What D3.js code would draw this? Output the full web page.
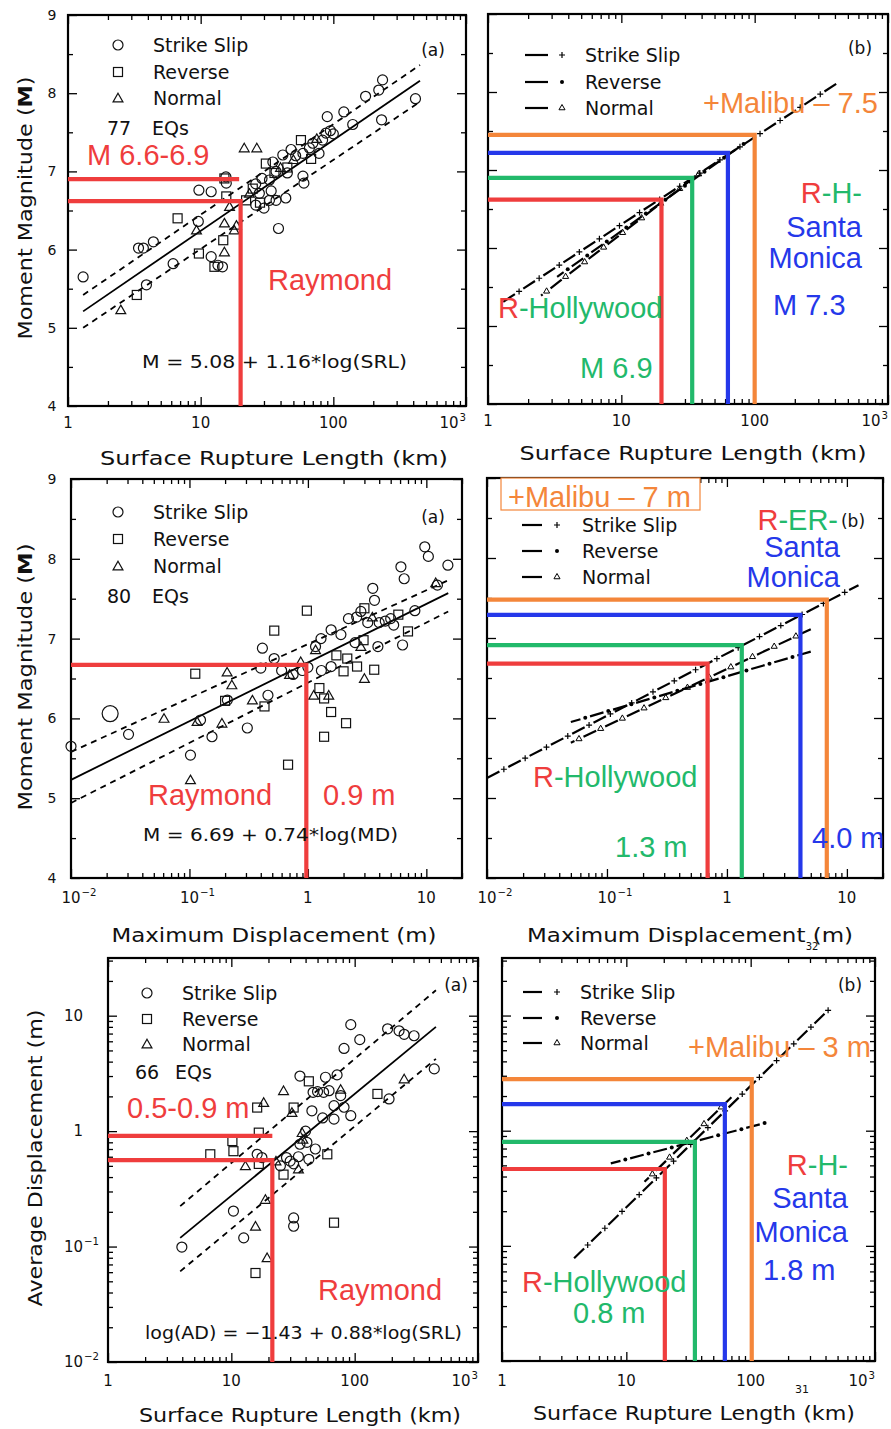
<!DOCTYPE html>
<html>
<head>
<meta charset="utf-8">
<script src="https://cdn.jsdelivr.net/npm/d3@7"></script>
<style>
  body { margin: 0; background: #fff; }
  text { font-family: "DejaVu Sans", sans-serif; fill: #111; }
  text.ann { font-family: "Liberation Sans", Arial, sans-serif; }
</style>
</head>
<body>
<script>
var RED = "#ef3d3d", GREEN = "#22b96b", BLUE = "#2538ea", ORANGE = "#f4863a";

// ---- panel (a) top: surface rupture length (km) vs moment magnitude ----
var srlM_strike = [[1.3,5.65],[3.9,5.55],[3.4,6.02],[3.7,6.02],[4.4,6.1],[6.2,5.82],[9.7,6.76],[12,6.74],[9.6,6.36],[12,5.91],
  [14.6,5.78],[13.5,5.8],[15.5,6.93],[15.6,6.85],[38.6,6.27],[43.8,6.66],[37,6.63],[33,6.63],[59,6.94],[60,6.85],
  [90,7.7],[120,7.76],[175,7.96],[220,8.04],[235,8.17],[416,7.93],[231,7.66],[48,7.28],[59,7.23],[70,7.36],
  [83,7.4],[88,7.49],[78,7.23],[35,7.12],[41.6,7.21],[37,7.0],[33,6.89],[29,6.91],[27.7,6.72],[26,6.57],
  [30,6.53],[100,7.48],[140,7.6],[66,7.3],[52,7.2],[95,7.52],[26,6.84],[45,6.98],[34,6.75]];
var srlM_reverse = [[3.3,5.42],[6.7,6.4],[9.7,5.95],[12.7,5.78],[14.8,6.12],[15.1,6.91],[15.6,6.68],[22,6.63],[24.7,6.78],
  [31,7.1],[57,7.4],[36,6.98],[68,7.16],[45,7.05],[28,6.6]];
var srlM_normal = [[2.5,5.23],[21.3,7.3],[26.5,7.3],[15.1,6.34],[18.6,6.31],[15.1,5.97],[17.9,6.25],[23.3,6.72],[16.5,6.55],
  [40,7.05],[50,7.15],[9.3,6.25],[75,7.42]];
var srlM_fit = [[1.3,5.21],[450,8.16]];
var srlM_upper = [[1.3,5.42],[450,8.36]];
var srlM_lower = [[1.3,5.0],[450,7.89]];
var raymondSrl = 20, raymondM = 6.62, raymondMHigh = 6.9, raymondSrlHigh = 19.5;

// ---- panel (b) top: regressions by slip type, faults ----
var srlM_lineSS = [[1.3,5.31],[430,8.13]];
var srlM_lineRev = [[3.3,5.63],[85,7.35]];
var srlM_lineNor = [[2.5,5.39],[41,6.99]];
var faultColors = [RED, GREEN, BLUE, ORANGE];
var faultSrl_M = [20, 34, 63, 100];
var faultM = [6.62, 6.9, 7.22, 7.45];

// ---- panel (a) middle: maximum displacement (m) vs magnitude ----
var mdM_strike = [[0.01,5.65],[0.0306,5.8],[0.102,5.54],[0.124,5.98],[0.155,5.77],[0.308,5.88],[0.413,6.88],[0.519,6.75],
  [0.40,6.63],[0.46,6.29],[0.209,6.23],[1.29,7.0],[1.57,7.11],[1.16,6.9],[1.57,6.65],[3.53,7.63],[3.65,7.48],[3.9,6.9],
  [6.1,7.9],[6.5,7.75],[9.7,8.15],[10.4,8.03],[15.2,7.92],[6.3,6.92],[12.4,7.67],[2.58,7.27],[2.8,7.34],[5.3,7.17],
  [1.9,7.05],[0.75,6.55],[1.3,6.6],[4.5,7.22],[3.2,7.2],[2.2,7.25],[4.0,7.2],[0.6,6.6],[1.0,6.64],[2.5,6.95],[8,7.35],
  [5,7.25],[0.9,6.6]];
var mdM_strikeBig = [[0.0214,6.06]];
var mdM_reverse = [[0.112,6.56],[0.52,7.1],[0.98,7.35],[0.43,6.15],[0.68,5.42],[1.25,6.38],[1.37,6.25],[1.57,6.08],[1.37,5.77],
  [2.1,5.94],[2.0,6.59],[2.6,6.65],[3.63,6.61],[2.95,6.98],[2.15,6.75],[3.0,7.38],[7.0,7.09],[1.74,6.79],[0.2,6.22],[5.8,7.3]];
var mdM_normal = [[0.102,5.23],[0.061,6.0],[0.208,6.58],[0.228,6.42],[0.188,5.94],[0.34,6.23],[0.116,5.96],[1.12,6.29],
  [1.5,6.29],[3.0,6.5],[2.8,6.9],[0.87,6.71],[1.16,6.86],[3.5,7.27],[0.7,6.55],[12,7.7]];
var mdM_fit = [[0.01,5.23],[15.3,7.57]];
var mdM_upper = [[0.01,5.58],[15.3,7.73]];
var mdM_lower = [[0.01,4.94],[15.3,7.34]];
var raymondMD = 0.97, raymondMD_M = 6.67;

// ---- panel (b) middle ----
var mdM_lineSS = [[0.01,5.25],[12.5,7.66]];
var mdM_lineRev = [[0.05,5.95],[5,6.83]];
var mdM_lineNor = [[0.05,5.69],[5,7.11]];
var faultMD = [0.69, 1.33, 4.1, 6.8];
var faultMD_M = [6.68, 6.91, 7.29, 7.48];

// ---- panel (a) bottom: surface rupture length (km) vs average displacement (m) ----
var srlAD_strike = [[3.97,0.099],[12.6,0.119],[10.4,0.203],[32,0.177],[32,0.15],[93,8.36],[110,6.2],[82,5.2],[185,7.7],
  [229,7.4],[252,6.9],[303,6.7],[442,3.46],[190,1.9],[36,3.0],[58,2.93],[72,3.07],[46,2.17],[56,2.17],[62,2.24],[77,2.03],
  [82,1.61],[93,1.36],[68,1.27],[68,1.66],[36,0.77],[41,0.8],[48,0.7],[28,0.59],[32,0.52],[42.5,0.57],[16.2,0.63],
  [17.7,0.59],[50,2.2],[40,1.0],[25,0.5],[45,1.5],[55,1.3],[35,0.6],[30,0.55]];
var srlAD_reverse = [[15.7,0.059],[68,0.161],[6.75,0.63],[10.4,0.67],[10.2,0.82],[16.7,0.97],[16.2,1.6],[32,1.6],[60,0.63],
  [26.5,0.42],[42.5,2.7],[153,2.1],[16.7,0.52]];
var srlAD_normal = [[19.5,0.08],[15.7,0.15],[18.9,0.256],[18.3,1.77],[26.5,2.24],[31,1.45],[35,0.47],[13,0.5],[37.5,0.97],
  [252,2.83],[77,2.3],[38,0.85],[23,0.55]];
var srlAD_fit = [[3.85,0.119],[456,8.0]];
var srlAD_upper = [[3.85,0.224],[456,16.6]];
var srlAD_lower = [[3.85,0.061],[456,4.23]];
var raymondSrlAD = 21.5, raymondAD = 0.56, raymondADHigh = 0.91;

// ---- panel (b) bottom ----
var srlAD_lineSS = [[3.8,0.078],[430,11.4]];
var srlAD_lineRev = [[7.5,0.52],[140,1.19]];
var srlAD_lineNor = [[14,0.36],[70,1.95]];
var faultSrl_AD = [20.4, 35.6, 62, 102];
var faultAD = [0.465, 0.8, 1.7, 2.8];

// tick labels
var srlTicks = [1, 10, 100, 1000], srlTickText = ["1", "10", "100", "10^3"];
var mdTicks = [0.01, 0.1, 1, 10], mdTickText = ["10^\u22122", "10^\u22121", "1", "10"];
var adTicks = [0.01, 0.1, 1, 10], adTickText = ["10^\u22122", "10^\u22121", "1", "10"];
var magTicks = [4, 5, 6, 7, 8, 9];
var legendNames = ["Strike Slip", "Reverse", "Normal"];

var svg = d3.select("body").append("svg").attr("width", 891).attr("height", 1429);

// scales for the six panels
var p1 = { x: d3.scaleLog().domain([1, 1000]).range([68, 466]), y: d3.scaleLinear().domain([4, 9]).range([406, 15]) };
var p2 = { x: d3.scaleLog().domain([1, 1000]).range([488, 888]), y: d3.scaleLinear().domain([4, 9]).range([404, 14]) };
var p3 = { x: d3.scaleLog().domain([0.01, 20]).range([71, 462]), y: d3.scaleLinear().domain([4, 9]).range([878, 479]) };
var p4 = { x: d3.scaleLog().domain([0.01, 20]).range([487, 883]), y: d3.scaleLinear().domain([4, 9]).range([878, 478]) };
var p5 = { x: d3.scaleLog().domain([1, 1000]).range([108, 478]), y: d3.scaleLog().domain([0.01, 31.6]).range([1362, 958]) };
var p6 = { x: d3.scaleLog().domain([1, 1000]).range([502, 875]), y: d3.scaleLog().domain([0.01, 31.6]).range([1361, 958]) };

function isDecade(v) { var l = Math.log10(v); return Math.abs(l - Math.round(l)) < 1e-6; }

// major / minor tick values: decades for log scales, integers + halves for magnitude
function splitTicks(s) {
  if (s.base) {
    var all = s.ticks();
    return { maj: all.filter(isDecade), min: all.filter(function(v){ return !isDecade(v); }) };
  }
  var d = s.domain(), maj = [], min = [];
  for (var v = d[0]; v <= d[1] + 1e-9; v += 0.5) { (Math.abs(v - Math.round(v)) < 1e-9 ? maj : min).push(v); }
  return { maj: maj, min: min };
}

function frameAndTicks(p) {
  var g = svg.append("g");
  var xr = p.x.range(), yr = p.y.range();
  var xt = splitTicks(p.x), yt = splitTicks(p.y);
  var sides = [
    [d3.axisBottom, p.x, "translate(0," + yr[0] + ")", xt],
    [d3.axisTop, p.x, "translate(0," + yr[1] + ")", xt],
    [d3.axisLeft, p.y, "translate(" + xr[0] + ",0)", yt],
    [d3.axisRight, p.y, "translate(" + xr[1] + ",0)", yt]
  ];
  sides.forEach(function(a) {
    g.append("g").attr("transform", a[2]).call(a[0](a[1]).tickValues(a[3].min).tickSize(-5).tickFormat(""));
    g.append("g").attr("transform", a[2]).call(a[0](a[1]).tickValues(a[3].maj).tickSize(-9).tickFormat(""));
  });
  g.selectAll(".domain").remove();
  g.selectAll(".tick line").attr("stroke", "#000").attr("stroke-width", 1.3);
  g.append("rect").attr("x", xr[0]).attr("y", yr[1]).attr("width", xr[1] - xr[0]).attr("height", yr[0] - yr[1])
    .attr("fill", "none").attr("stroke", "#000").attr("stroke-width", 2.2);
  return g;
}

// tick label, base centred on x, superscript after it
function tickLabel(x, y, txt, anchor, size) {
  var parts = txt.split("^");
  var t = svg.append("text").attr("x", x).attr("y", y).attr("text-anchor", anchor).attr("font-size", size).text(parts[0]);
  if (parts[1]) {
    var w = t.node().getComputedTextLength();
    var sx = anchor === "middle" ? x + w / 2 : x;
    svg.append("text").attr("x", sx + 1).attr("y", y - 7).attr("font-size", size * 0.68).text(parts[1]);
  }
}

function xTickLabels(p, vals, texts, y) {
  vals.forEach(function(v, i) {
    var shift = texts[i] === "10^3" ? -17 : 0;
    tickLabel(p.x(v) + shift, y, texts[i], "middle", 15);
  });
}

function ptsLine(p, data, dash, width) {
  svg.append("path").datum(data)
    .attr("d", d3.line().x(function(d){ return p.x(d[0]); }).y(function(d){ return p.y(d[1]); }))
    .attr("fill", "none").attr("stroke", "#000").attr("stroke-width", width || 1.8)
    .attr("stroke-dasharray", dash || null);
}

var triSym = d3.symbol().type(d3.symbolTriangle).size(42);
function drawSymbols(parent, pts, kind, size) {
  var sel = parent.selectAll(null).data(pts).enter();
  var sty = function(s) { return s.attr("fill", "none").attr("stroke", "#111").attr("stroke-width", 1.2); };
  if (kind === "circle") {
    sty(sel.append("circle").attr("cx", function(d){ return d[0]; }).attr("cy", function(d){ return d[1]; }).attr("r", size || 5));
  } else if (kind === "square") {
    sty(sel.append("rect").attr("x", function(d){ return d[0] - 4.5; }).attr("y", function(d){ return d[1] - 4.5; })
      .attr("width", 9).attr("height", 9));
  } else {
    sty(sel.append("path").attr("d", triSym).attr("transform", function(d){ return "translate(" + d[0] + "," + (d[1] + 1) + ")"; }));
  }
}
function scatter(p, data, kind, size) {
  drawSymbols(svg.append("g"), data.map(function(d){ return [p.x(d[0]), p.y(d[1])]; }), kind, size);
}

function smallMarker(g, x, y, kind) {
  if (kind === "plus") {
    g.append("path").attr("d", "M" + (x - 3) + "," + y + "H" + (x + 3) + "M" + x + "," + (y - 3) + "V" + (y + 3))
      .attr("stroke", "#000").attr("stroke-width", 1.2);
  } else if (kind === "star") {
    g.append("circle").attr("cx", x).attr("cy", y).attr("r", 2).attr("fill", "#000");
  } else {
    g.append("path").attr("d", d3.symbol().type(d3.symbolTriangle).size(16)).attr("transform", "translate(" + x + "," + y + ")")
      .attr("fill", "none").attr("stroke", "#000").attr("stroke-width", 1);
  }
}
// dashed regression line with a small marker in every gap
function typeLine(p, data, kind, dash, offset) {
  var g = svg.append("g");
  var path = g.append("path").datum(data)
    .attr("d", d3.line().x(function(d){ return p.x(d[0]); }).y(function(d){ return p.y(d[1]); }))
    .attr("fill", "none").attr("stroke", "#000").attr("stroke-width", 2.2).attr("stroke-dasharray", dash[0] + "," + dash[1])
    .attr("stroke-dashoffset", offset || 0);
  var node = path.node(), L = node.getTotalLength(), step = dash[0] + dash[1];
  for (var s = dash[0] + dash[1] / 2 - (offset || 0); s < L; s += step) {
    if (s < 0) continue;
    var pt = node.getPointAtLength(s);
    smallMarker(g, pt.x, pt.y, kind);
  }
}

function faultLines(p, xs, ys) {
  var xr = p.x.range(), yr = p.y.range();
  xs.forEach(function(v, i) {
    svg.append("path")
      .attr("d", "M" + xr[0] + "," + p.y(ys[i]) + "H" + p.x(v) + "V" + yr[0])
      .attr("fill", "none").attr("stroke", faultColors[i]).attr("stroke-width", 4.2).attr("stroke-linejoin", "miter");
  });
}

function ann(x, y, anchor, pieces) {
  var t = svg.append("text").attr("class", "ann").attr("x", x).attr("y", y).attr("text-anchor", anchor).attr("font-size", 29);
  pieces.forEach(function(pc) { t.append("tspan").style("fill", pc[1]).text(pc[0]); });
  return t;
}

function plain(x, y, txt, size, anchor, len) {
  var t = svg.append("text").attr("x", x).attr("y", y).attr("font-size", size).attr("text-anchor", anchor || "start").text(txt);
  if (len) t.attr("textLength", len).attr("lengthAdjust", "spacingAndGlyphs");
  return t;
}

function xTitle(cx, y, txt, len) {
  plain(cx, y, txt, 20, "middle", len);
}
function yTitle(cx, cy, pieces, len) {
  var t = svg.append("text").attr("transform", "translate(" + cx + "," + cy + ") rotate(-90)")
    .attr("text-anchor", "middle").attr("font-size", 20).attr("textLength", len).attr("lengthAdjust", "spacingAndGlyphs");
  pieces.forEach(function(pc) { t.append("tspan").attr("font-weight", pc[1] ? "bold" : "normal").text(pc[0]); });
}

function scatterLegend(x0, xt, rows, count, countX, eqX, countY) {
  var kinds = ["circle", "square", "triangle"];
  var g = svg.append("g");
  legendNames.forEach(function(n, i) {
    drawSymbols(g, [[x0, rows[i]]], kinds[i]);
    plain(xt, rows[i] + 7, n, 19);
  });
  plain(countX, countY + 7, count, 19);
  plain(eqX, countY + 7, "EQs", 19);
}

function lineLegend(x0, x1, xm, xt, rows) {
  var kinds = ["plus", "star", "tri"];
  var g = svg.append("g");
  legendNames.forEach(function(n, i) {
    g.append("line").attr("x1", x0).attr("x2", x1).attr("y1", rows[i]).attr("y2", rows[i]).attr("stroke", "#000").attr("stroke-width", 2.2);
    smallMarker(g, xm, rows[i], kinds[i]);
    plain(xt, rows[i] + 7, n, 19);
  });
}

// ================= panel 1 =================
frameAndTicks(p1);
ptsLine(p1, srlM_upper, "6,5");
ptsLine(p1, srlM_lower, "6,5");
ptsLine(p1, srlM_fit);
scatter(p1, srlM_strike, "circle");
scatter(p1, srlM_reverse, "square");
scatter(p1, srlM_normal, "triangle");
scatterLegend(118, 153, [45, 72, 98], "77", 107, 152, 128);
plain(433, 56, "(a)", 17, "middle");
plain(142, 368, "M = 5.08 + 1.16*log(SRL)", 18, "start", 265);
svg.append("path").attr("d", "M" + p1.x.range()[0] + "," + p1.y(raymondMHigh) + "H" + p1.x(raymondSrlHigh))
  .attr("stroke", RED).attr("stroke-width", 4.2).attr("fill", "none");
svg.append("path").attr("d", "M" + p1.x.range()[0] + "," + p1.y(raymondM) + "H" + p1.x(raymondSrl) + "V" + p1.y.range()[0])
  .attr("stroke", RED).attr("stroke-width", 4.2).attr("fill", "none");
ann(87, 165, "start", [["M 6.6-6.9", RED]]);
ann(268, 290, "start", [["Raymond", RED]]);
xTickLabels(p1, srlTicks, srlTickText, 428);
magTicks.forEach(function(v) { plain(52, p1.y(v) + 5, String(v), 14, "middle"); });
xTitle(274, 465, "Surface Rupture Length (km)", 348);
yTitle(32, 208, [["Moment Magnitude (", false], ["M", true], [")", false]], 263);

// ================= panel 2 =================
frameAndTicks(p2);
typeLine(p2, srlM_lineSS, "plus", [14, 10]);
typeLine(p2, srlM_lineRev, "star", [14, 10], 6);
typeLine(p2, srlM_lineNor, "tri", [14, 10], 12);
faultLines(p2, faultSrl_M, faultM);
lineLegend(525, 548, 562, 585, [55, 82, 108]);
plain(860, 54, "(b)", 17, "middle");
ann(703, 113, "start", [["+Malibu \u2013 7.5", ORANGE]]);
ann(862, 203, "end", [["R", RED], ["-H-", GREEN]]);
ann(862, 237, "end", [["Santa", BLUE]]);
ann(862, 268, "end", [["Monica", BLUE]]);
ann(773, 315, "start", [["M 7.3", BLUE]]);
ann(498, 318, "start", [["R", RED], ["-Hollywood", GREEN]]);
ann(580, 378, "start", [["M 6.9", GREEN]]);
xTickLabels(p2, srlTicks, srlTickText, 426);
xTitle(693, 460, "Surface Rupture Length (km)", 347);

// ================= panel 3 =================
frameAndTicks(p3);
ptsLine(p3, mdM_upper, "6,5");
ptsLine(p3, mdM_lower, "6,5");
ptsLine(p3, mdM_fit);
scatter(p3, mdM_strike, "circle");
scatter(p3, mdM_strikeBig, "circle", 8);
scatter(p3, mdM_reverse, "square");
scatter(p3, mdM_normal, "triangle");
scatterLegend(118, 153, [512, 539, 566], "80", 107, 152, 596);
plain(433, 523, "(a)", 17, "middle");
svg.append("path").attr("d", "M" + p3.x.range()[0] + "," + p3.y(raymondMD_M) + "H" + p3.x(raymondMD) + "V" + p3.y.range()[0])
  .attr("stroke", RED).attr("stroke-width", 4.2).attr("fill", "none");
ann(148, 805, "start", [["Raymond", RED]]);
ann(323, 805, "start", [["0.9 m", RED]]);
plain(143, 841, "M = 6.69 + 0.74*log(MD)", 18, "start", 255);
xTickLabels(p3, mdTicks, mdTickText, 903);
magTicks.forEach(function(v) { plain(52, p3.y(v) + 5, String(v), 14, "middle"); });
xTitle(274, 942, "Maximum Displacement (m)", 325);
yTitle(32, 677, [["Moment Magnitude (", false], ["M", true], [")", false]], 267);

// ================= panel 4 =================
frameAndTicks(p4);
typeLine(p4, mdM_lineSS, "plus", [14, 10]);
typeLine(p4, mdM_lineRev, "star", [14, 10], 4);
typeLine(p4, mdM_lineNor, "tri", [14, 10], 10);
faultLines(p4, faultMD, faultMD_M);
svg.append("rect").attr("x", 501).attr("y", 478).attr("width", 199).attr("height", 32)
  .attr("fill", "#fff").attr("stroke", ORANGE).attr("stroke-width", 1.2);
ann(508, 507, "start", [["+Malibu \u2013 7 m", ORANGE]]);
lineLegend(522, 542, 557, 582, [525, 551, 577]);
ann(838, 530, "end", [["R", RED], ["-ER-", GREEN]]);
plain(853, 527, "(b)", 17, "middle");
ann(840, 557, "end", [["Santa", BLUE]]);
ann(840, 587, "end", [["Monica", BLUE]]);
ann(533, 787, "start", [["R", RED], ["-Hollywood", GREEN]]);
ann(615, 857, "start", [["1.3 m", GREEN]]);
ann(812, 848, "start", [["4.0 m", BLUE]]);
xTickLabels(p4, mdTicks, mdTickText, 903);
xTitle(690, 942, "Maximum Displacement (m)", 326);
plain(812, 950, "32", 10, "middle");

// ================= panel 5 =================
frameAndTicks(p5);
ptsLine(p5, srlAD_upper, "6,5");
ptsLine(p5, srlAD_lower, "6,5");
ptsLine(p5, srlAD_fit);
scatter(p5, srlAD_strike, "circle");
scatter(p5, srlAD_reverse, "square");
scatter(p5, srlAD_normal, "triangle");
scatterLegend(147, 182, [993, 1019, 1044], "66", 135, 175, 1072);
plain(456, 991, "(a)", 17, "middle");
svg.append("path").attr("d", "M" + p5.x.range()[0] + "," + p5.y(raymondADHigh) + "H" + p5.x(raymondSrlAD))
  .attr("stroke", RED).attr("stroke-width", 4.2).attr("fill", "none");
svg.append("path").attr("d", "M" + p5.x.range()[0] + "," + p5.y(raymondAD) + "H" + p5.x(raymondSrlAD) + "V" + p5.y.range()[0])
  .attr("stroke", RED).attr("stroke-width", 4.2).attr("fill", "none");
ann(127, 1118, "start", [["0.5-0.9 m", RED]]);
ann(318, 1300, "start", [["Raymond", RED]]);
plain(145, 1339, "log(AD) = \u22121.43 + 0.88*log(SRL)", 18, "start", 317);
xTickLabels(p5, srlTicks, srlTickText, 1386);
adTicks.forEach(function(v, i) { tickLabel(83, p5.y(v) + 5, adTickText[i], "end", 15); });
xTitle(300, 1422, "Surface Rupture Length (km)", 322);
yTitle(42, 1158, [["Average Displacement (m)", false]], 297);

// ================= panel 6 =================
frameAndTicks(p6);
typeLine(p6, srlAD_lineSS, "plus", [14, 10]);
typeLine(p6, srlAD_lineRev, "star", [14, 10], 4);
typeLine(p6, srlAD_lineNor, "tri", [14, 10], 8);
faultLines(p6, faultSrl_AD, faultAD);
lineLegend(523, 542, 557, 580, [992, 1018, 1043]);
plain(850, 991, "(b)", 17, "middle");
ann(688, 1057, "start", [["+Malibu \u2013 3 m", ORANGE]]);
ann(848, 1175, "end", [["R", RED], ["-H-", GREEN]]);
ann(848, 1208, "end", [["Santa", BLUE]]);
ann(848, 1242, "end", [["Monica", BLUE]]);
ann(763, 1280, "start", [["1.8 m", BLUE]]);
ann(522, 1292, "start", [["R", RED], ["-Hollywood", GREEN]]);
ann(573, 1323, "start", [["0.8 m", GREEN]]);
xTickLabels(p6, srlTicks, srlTickText, 1386);
xTitle(694, 1420, "Surface Rupture Length (km)", 322);
plain(802, 1393, "31", 11, "middle");
</script>
</body>
</html>
